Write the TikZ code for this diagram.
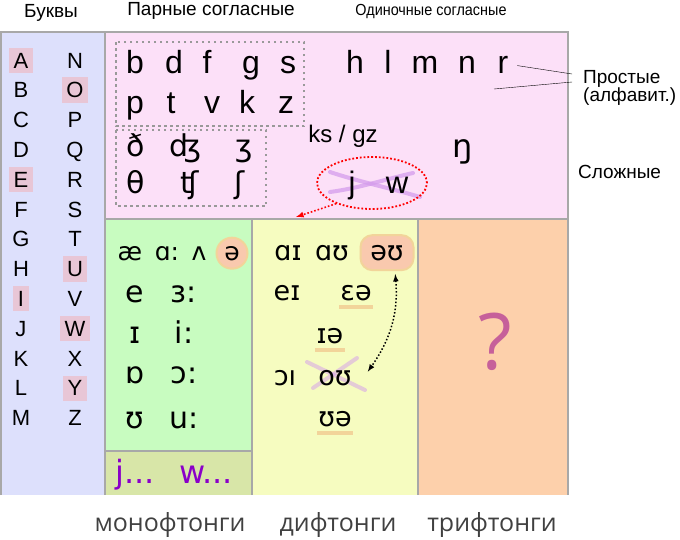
\documentclass[tikz,border=0pt]{standalone}
\usepackage{fontspec}
\setmainfont{Liberation Sans}
\newfontfamily\ipa{DejaVu Sans}
\newfontfamily\grau{Open Sans}
\newfontfamily\schmal[FakeStretch=0.9]{Liberation Sans}
\usetikzlibrary{shapes.geometric}

\definecolor{blaufeld}{HTML}{DDE0FC}
\definecolor{rosafeld}{HTML}{FCE0F8}
\definecolor{gruenfeld}{HTML}{C8FCC0}
\definecolor{olivfeld}{HTML}{D8E6A8}
\definecolor{gelbfeld}{HTML}{F6FCC0}
\definecolor{orangefeld}{HTML}{FDD0AB}
\definecolor{marke}{HTML}{E8C6D6}
\definecolor{lachs}{HTML}{F9C9AE}
\definecolor{gold}{HTML}{F2D49A}
\definecolor{lila}{HTML}{8A00C8}
\definecolor{flieder}{HTML}{D49CEC}
\definecolor{frage}{HTML}{C6609A}
\definecolor{rahmen}{HTML}{A8A8A8}

\def\gr#1{\fontsize{#1}{#1}\selectfont}
\def\zeile#1{{68+29.8*(#1)}}

\tikzset{
	feld/.style={draw=rahmen,line width=1.2pt},
	leer/.style={},
	bst/.style={anchor=base,inner sep=1pt,font=\gr{22}},
	hl/.style={fill=marke,inner xsep=4.5pt,inner ysep=5pt},
	kons/.style={anchor=base,inner sep=1pt,font=\gr{32}},
	lautk/.style={anchor=base,inner sep=1pt,font=\ipa\gr{30}},
	vok/.style={anchor=base,inner sep=1pt,font=\ipa\gr{30}},
	vokk/.style={anchor=base,inner sep=1pt,font=\ipa\gr{25}},
	dif/.style={anchor=base,inner sep=1pt,font=\ipa\gr{27}},
	kasten/.style={draw=gray!80,line width=2.5pt,dash pattern=on 2.5pt off 3.5pt},
	titel/.style={font=\gr{19}},
	unten/.style={anchor=base,font=\grau\gr{25},text=black!75},
	strich/.style={flieder,line width=4pt,opacity=0.75,line cap=round},
	unterstr/.style={gold,line width=4pt},
	rund/.style={fill=lachs,draw=gold,line width=2pt},
}

\begin{document}
\begin{tikzpicture}[x=1pt,y=-1pt,>=latex]
\useasboundingbox (0,0) rectangle (680,539);
% Felder
\fill[blaufeld] (0,32) rectangle (105,495);
\fill[rosafeld] (105,32) rectangle (568,219);
\fill[gruenfeld] (105,219) rectangle (252,451);
\fill[olivfeld] (105,451) rectangle (252,495);
\fill[gelbfeld] (252,219) rectangle (418,495);
\fill[orangefeld] (418,219) rectangle (568,495);
\draw[feld] (1,495) -- (1,32) -- (568,32) -- (568,495);
\draw[feld] (105,32) -- (105,495);
\draw[feld] (105,219) -- (568,219);
\foreach \x in {252,418}
	\draw[feld] (\x,219) -- (\x,495);
\draw[feld] (105,451) -- (252,451);

% Ueberschriften
\node[titel] (tbuk) at (51,13) {Буквы};
\node[titel] (tpaar) at (211,11) {Парные согласные};
\node[font=\schmal\gr{16}] (tein) at (431,12) {Одиночные согласные};

% Alphabet
\foreach \b/\s [count=\i from 0] in {A/hl,B/leer,C/leer,D/leer,E/hl,F/leer,G/leer,H/leer,I/hl,J/leer,K/leer,L/leer,M/leer}
	\node[bst,\s] (a\i) at (21,\zeile{\i}) {\b};
\foreach \b/\s [count=\i from 0] in {N/leer,O/hl,P/leer,Q/leer,R/leer,S/leer,T/leer,U/hl,V/leer,W/hl,X/leer,Y/hl,Z/leer}
	\node[bst,\s] (n\i) at (75,\zeile{\i}) {\b};

% Paarige Konsonanten
\draw[kasten] (116,42) rectangle (304,126);
\draw[kasten] (116,130) rectangle (266,206);
\foreach \k/\x in {b/135,d/174,f/207,g/251,s/288}
	\node[kons] (k\k) at (\x,73) {\k};
\foreach \k/\x in {p/135,t/171,v/212,k/247,z/286}
	\node[kons] (k\k) at (\x,113) {\k};
\foreach \k/\x [count=\i] in {ð/136,ʤ/185,ʒ/244}
	\node[lautk] (s\i) at (\x,156) {\k};
\foreach \k/\x [count=\i] in {θ/136,ʧ/190,ʃ/240}
	\node[lautk] (t\i) at (\x,193) {\k};

% Einzelne Konsonanten
\foreach \k/\x in {h/355,l/388,m/425,n/467,r/503}
	\node[kons] (k\k) at (\x,73) {\k};
\node[lautk,font=\ipa\gr{32}] (ng) at (463,157) {ŋ};
\node[anchor=base,font=\gr{24}] (ksgz) at (343,142) {ks / gz};
\draw[strich] (330,172) .. controls (360,182) and (390,188) .. (420,197);
\draw[strich] (330,192) .. controls (360,188) and (390,178) .. (413,173);
\node[kons,font=\gr{31}] (kj) at (352,193) {j};
\node[kons,font=\gr{31}] (kw) at (397,193) {w};
\node[ellipse,draw=red,dotted,line width=1.8pt,minimum width=110pt,minimum height=52pt] (jw) at (372,183) {};
\coordinate (ziel) at (296,217);
\draw[->,red,dotted,line width=1.6pt] (jw.210) -- (ziel);

% Beschriftung rechts
\node[anchor=west,align=left,inner sep=0,font=\fontsize{19}{18}\selectfont] (prost) at (583,88) {Простые\\(алфавит.)};
\coordinate (e1) at (572,74);
\coordinate (e2) at (572,82);
\coordinate (p2) at (494,89);
\draw[shorten <=8pt] (kr.east) -- (e1);
\draw (p2) -- (e2);
\node[anchor=west,inner sep=0,font=\gr{19}] (slozh) at (578,172) {Сложные};

% Monophthonge
\node[vokk] (v1) at (130,260) {æ};
\node[vokk] (v2) at (167,260) {ɑ:};
\node[vokk] (v3) at (199,260) {ʌ};
\node[vokk,circle,rund,minimum size=31pt,inner sep=0] (v4) at (232,260) {ə};
\foreach \a/\b/\y [count=\i] in {e/ɜ:/302,ɪ/i:/343,ɒ/ɔ:/383,ʊ/u:/428}{
	\node[vok] (m\i) at (135,\y) {\a};
	\node[vok] (l\i) at (184,\y) {\b};
}
\node[anchor=base,font=\ipa\gr{32},text=lila] (jj) at (135,483) {j...};
\node[anchor=base,font=\ipa\gr{32},text=lila] (ww) at (206,483) {w...};

% Diphthonge
\node[dif] (ai) at (288,260) {ɑɪ};
\node[dif] (au) at (332,260) {ɑʊ};
\node[dif,rund,rounded corners=12pt,minimum width=53pt,minimum height=35pt] (eu) at (387,260) {əʊ};
\node[dif] (ei) at (287,300) {eɪ};
\node[dif] (ea) at (356,300) {ɛə};
\node[dif] (ia) at (330,343) {ɪə};
\draw[strich,opacity=0.5] (307,362) -- (365,390);
\draw[strich,opacity=0.5] (313,388) -- (357,358);
\node[dif] (oi) at (285,385) {ɔı};
\node[dif] (ou) at (335,385) {oʊ};
\node[dif] (ua) at (335,426) {ʊə};
\foreach \n in {ea,ia,ua}
	\draw[unterstr] ([yshift=-7pt]\n.base west) -- ([yshift=-7pt]\n.base east);
\draw[<->,dotted,line width=1.5pt,shorten <=3pt] ([xshift=8pt]eu.south) to[bend left=20] ([xshift=15pt,yshift=6pt]ou.east);

% Triphthonge
\node[font=\grau\gr{78},text=frage] (frage) at (495,342) {?};

% unten
\node[unten] (mono) at (170,531) {монофтонги};
\node[unten] (di) at (338,531) {дифтонги};
\node[unten] (tri) at (492,531) {трифтонги};
\end{tikzpicture}
\end{document}
